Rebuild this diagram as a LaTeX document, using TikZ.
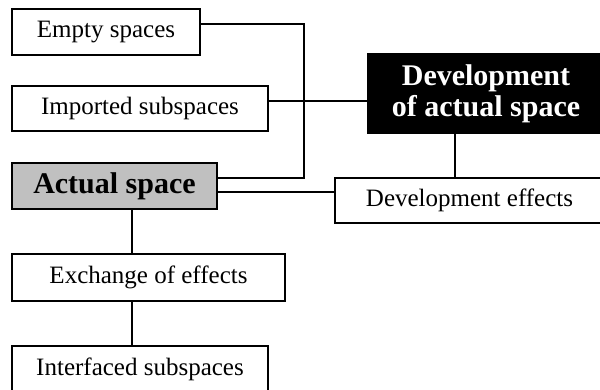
\documentclass[tikz,border=0pt]{standalone}
\usepackage{fontspec}
\setmainfont{Liberation Serif}
\definecolor{boxgray}{RGB}{192,192,192}
\tikzset{
  box/.style={draw,line width=2.2pt,inner sep=0pt,font=\fontsize{25}{27}\selectfont},
  boldbox/.style={box,font=\fontsize{30}{31}\selectfont\bfseries},
  link/.style={line width=2.2pt}
}
\begin{document}
\begin{tikzpicture}[x=1pt,y=-1pt]
      \useasboundingbox (0,0) rectangle (600,390) ;
      \clip (0,0) rectangle (600,390) ;
      % left column
      \node[box,minimum width=188pt,minimum height=46pt] (empty) at (106,32) {Empty spaces} ;
      \node[box,minimum width=256pt,minimum height=45pt] (imported) at (140,108.5) {Imported subspaces} ;
      \node[boldbox,fill=boxgray,minimum width=205pt,minimum height=46pt] (actual) at (114.5,186) {Actual space} ;
      \node[box,minimum width=273pt,minimum height=47pt] (exchange) at (148.5,277.5) {Exchange of effects} ;
      \node[box,minimum width=256pt,minimum height=46pt] (interfaced) at (140,369) {Interfaced subspaces} ;
      % right side
      \node[boldbox,fill=black,text=white,align=center,minimum width=236pt,minimum height=79pt] (devspace) at (486,93.5) {Development\\of actual space} ;
      \node[box,minimum width=269pt,minimum height=45pt] (deveffects) at (469.5,200.5) {Development effects} ;
      % connectors
      \draw[link] ([yshift=8pt]empty.east) -- ++(103,0) |- ([yshift=8pt]actual.east) ;
      \draw[link] ([yshift=7.5pt]imported.east) -- ([yshift=7.5pt]imported.east -| devspace.west) ;
      \draw[link] ([yshift=-6pt]actual.east) -- ([yshift=-6pt]actual.east -| deveffects.west) ;
      \draw[link] ([xshift=-31pt]devspace.south) -- ([xshift=-31pt]devspace.south |- deveffects.north) ;
      \draw[link] ([xshift=17.5pt]actual.south) -- ([xshift=17.5pt]actual.south |- exchange.north) ;
      \draw[link] ([xshift=-16.5pt]exchange.south) -- ([xshift=-16.5pt]exchange.south |- interfaced.north) ;
\end{tikzpicture}
\end{document}
